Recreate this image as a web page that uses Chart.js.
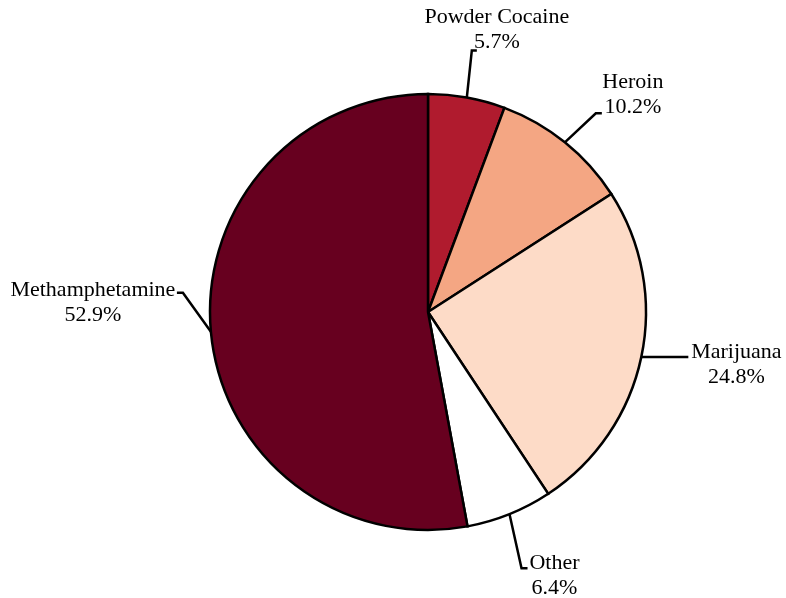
<!DOCTYPE html>
<html>
<head>
<meta charset="utf-8">
<script src="https://cdn.jsdelivr.net/npm/chart.js@4/dist/chart.umd.min.js"></script>
<style>
  html, body { margin: 0; padding: 0; background: #ffffff; }
  #wrap { width: 786px; height: 598px; }
</style>
</head>
<body>
<div id="wrap"><canvas id="myChart" width="786" height="598"></canvas></div>
<script>
'use strict';

// data
var drugNames = ['Powder Cocaine', 'Heroin', 'Marijuana', 'Other', 'Methamphetamine'];
var drugShares = [5.7, 10.2, 24.8, 6.4, 52.9];
var sliceColors = ['#b01b2e', '#f4a683', '#fddbc7', '#ffffff', '#67001f'];

// leader line layout: elbow offset from the slice edge, tick length, label offset from tick end
var leaderElbow = [[5, -47], [31, -29], [0, 0], [12, 54], [-28, -39]];
var leaderTick = [5, 6, 47, 6, -6];
var labelShift = [[20, -33], [31, -31], [48, -5], [27, -5], [-84, -3]];

var leaderLabels = {
  id: 'leaderLabels',
  afterDatasetsDraw: function(chart) {
    var ctx = chart.ctx;
    var arcs = chart.getDatasetMeta(0).data;
    ctx.save();
    ctx.strokeStyle = '#000000';
    ctx.lineWidth = 2.5;
    ctx.lineJoin = 'miter';
    ctx.fillStyle = '#000000';
    ctx.font = '22px "Liberation Serif", "Times New Roman", serif';
    ctx.textAlign = 'center';
    ctx.textBaseline = 'middle';
    for (var i = 0; i < arcs.length; i++) {
      var a = arcs[i];
      var mid = (a.startAngle + a.endAngle) / 2;
      var ex = a.x + Math.cos(mid) * a.outerRadius;
      var ey = a.y + Math.sin(mid) * a.outerRadius;
      var bx = ex + leaderElbow[i][0];
      var by = ey + leaderElbow[i][1];
      var tx = bx + leaderTick[i];
      ctx.beginPath();
      ctx.moveTo(ex, ey);
      ctx.lineTo(bx, by);
      ctx.lineTo(tx, by);
      ctx.stroke();
      var lx = tx + labelShift[i][0];
      var ly = by + labelShift[i][1];
      ctx.fillText(drugNames[i], lx, ly);
      ctx.fillText(drugShares[i].toFixed(1) + '%', lx, ly + 25);
    }
    ctx.restore();
  }
};

var ctx = document.getElementById('myChart').getContext('2d');

var myChart = new Chart(ctx, {
  type: 'pie',
  data: {
    labels: drugNames,
    datasets: [{
      data: drugShares,
      backgroundColor: sliceColors,
      borderColor: '#000000',
      borderWidth: 2.5,
      borderJoinStyle: 'miter'
    }]
  },
  options: {
    responsive: false,
    animation: false,
    radius: 218,
    layout: { padding: { left: 70, right: 0, top: 26, bottom: 0 } },
    plugins: {
      legend: { display: false },
      tooltip: { enabled: false }
    }
  },
  plugins: [leaderLabels]
});
</script>
</body>
</html>
